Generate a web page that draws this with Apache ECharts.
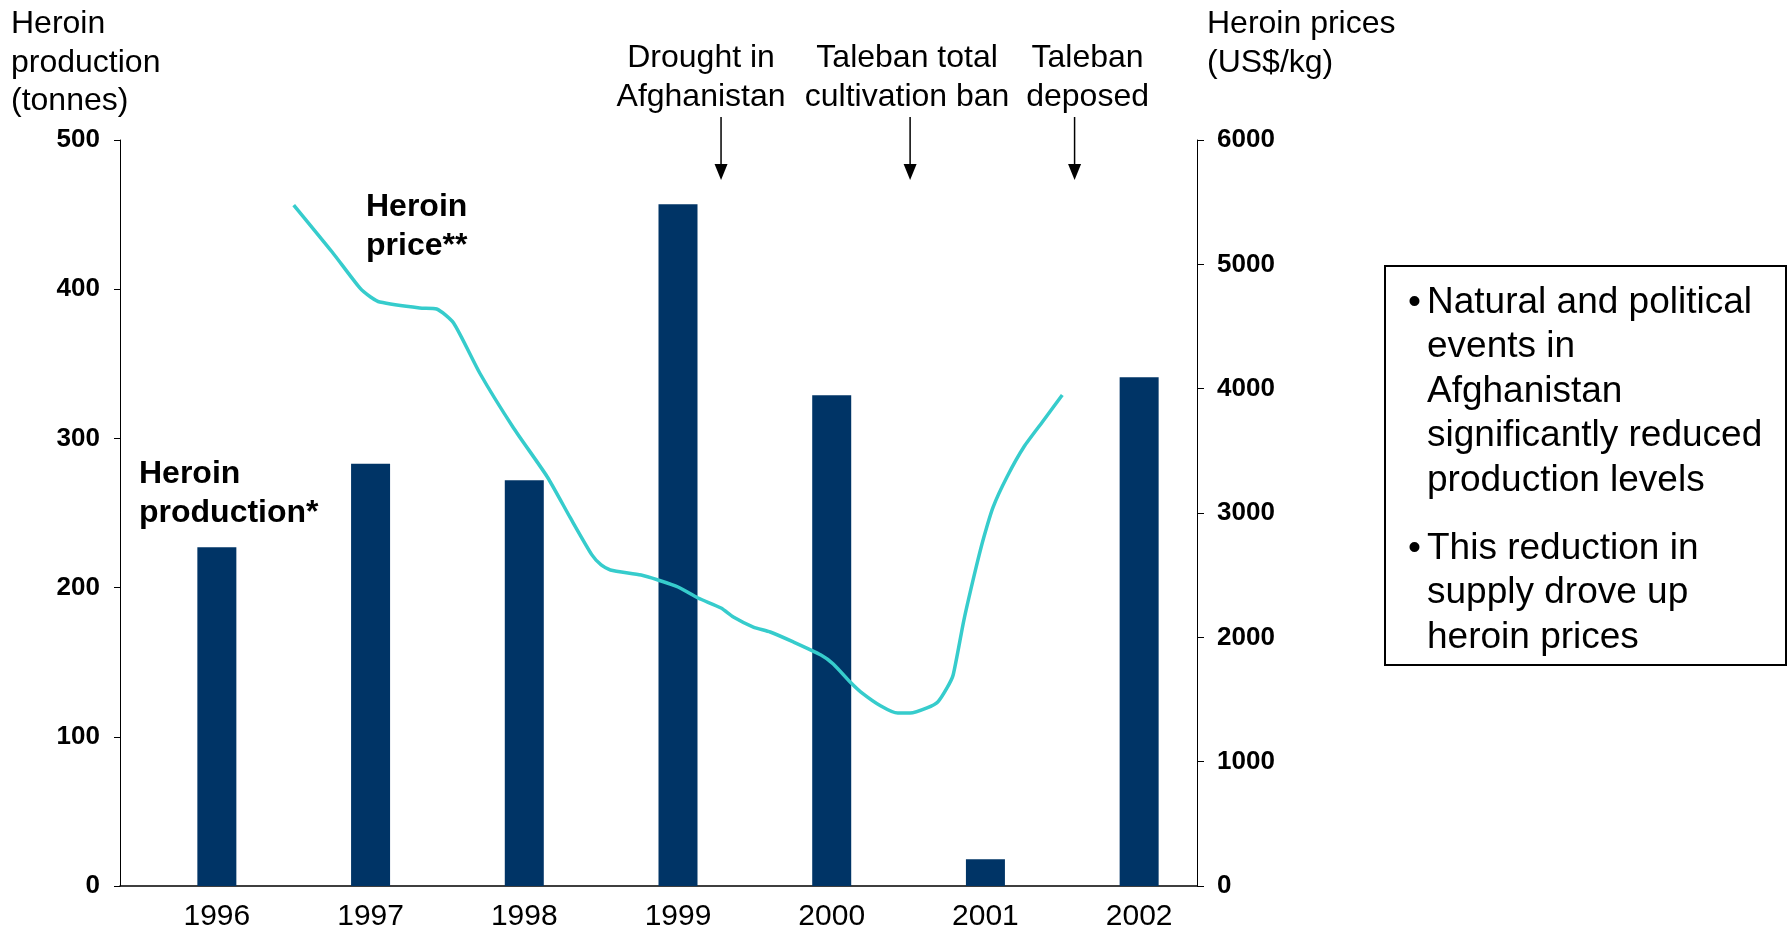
<!DOCTYPE html>
<html>
<head>
<meta charset="utf-8">
<script src="https://cdn.jsdelivr.net/npm/echarts@6/dist/echarts.min.js"></script>
<style>
    html, body { margin: 0; padding: 0; background: #fff; }
    #chart { width: 1789px; height: 928px; }
</style>
</head>
<body>
<div id="chart"></div>
<script>
// data
const years = ['1996', '1997', '1998', '1999', '2000', '2001', '2002'];
const production = [227, 283, 272, 457, 329, 18, 341]; // tonnes

// heroin price (US$/kg), x = decimal year
const priceYears = [1996.50, 1996.75, 1996.93, 1997.00, 1997.06, 1997.32, 1997.43, 1997.54, 1997.71, 1997.93,
    1998.15, 1998.30, 1998.44, 1998.50, 1998.56, 1998.76, 1998.87, 1999.00, 1999.13, 1999.28,
    1999.36, 1999.49, 1999.60, 1999.75, 1999.93, 2000.01, 2000.12, 2000.19, 2000.32, 2000.43,
    2000.51, 2000.62, 2000.69, 2000.75, 2000.79, 2000.86, 2000.94, 2000.99, 2001.05, 2001.14,
    2001.25, 2001.38, 2001.50];
const prices = [5477, 5099, 4810, 4737, 4697, 4649, 4641, 4528, 4126, 3684,
    3290, 2960, 2663, 2582, 2542, 2501, 2461, 2405, 2316, 2236,
    2164, 2083, 2043, 1963, 1858, 1786, 1641, 1560, 1448, 1391,
    1391, 1432, 1480, 1593, 1697, 2139, 2566, 2807, 3048, 3290,
    3531, 3748, 3949];

const leftTicks = [0, 100, 200, 300, 400, 500];
const rightTicks = [0, 1000, 2000, 3000, 4000, 5000, 6000];

const eventYears = [1999.28, 2000.51, 2001.58];
const eventLabels = ['Drought in\nAfghanistan', 'Taleban total\ncultivation ban', 'Taleban\ndeposed'];
const eventLabelShift = [-20, -3, 13];

const bullets = [
    'Natural and political\nevents in\nAfghanistan\nsignificantly reduced\nproduction levels',
    'This reduction in\nsupply drove up\nheroin prices'
];

const FONT = '"Liberation Sans", Arial, sans-serif';
const BAR = '#003466';
const LINE = '#36CCCC';

const chart = echarts.init(document.getElementById('chart'));

const option = {
    animation: false,
    backgroundColor: '#fff',
    textStyle: { fontFamily: FONT },
    grid: [
        // data grid (bars + price line)
        { left: 140, right: 573, top: 140, bottom: 42, outerBoundsMode: 'none' },
        // visible axes
        { left: 120, right: 592, top: 140, bottom: 42, outerBoundsMode: 'none' }
    ],
    xAxis: [
        {
            type: 'category', gridIndex: 0, data: years,
            axisLine: { show: false }, axisTick: { show: false },
            axisLabel: { color: '#000', fontSize: 30, margin: 16, fontFamily: FONT }
        },
        { type: 'value', gridIndex: 0, min: 1995.5, max: 2002.5, show: false },
        {
            type: 'value', gridIndex: 1, min: 0, max: 1,
            axisLine: { lineStyle: { color: '#000', width: 1.5 } },
            axisTick: { show: false }, axisLabel: { show: false }, splitLine: { show: false }
        }
    ],
    yAxis: [
        { type: 'value', gridIndex: 0, min: 0, max: 500, show: false },
        { type: 'value', gridIndex: 0, min: 0, max: 6000, show: false },
        {
            type: 'value', gridIndex: 1, position: 'left', min: leftTicks[0], max: leftTicks[leftTicks.length - 1], interval: 100,
            axisLine: { show: true, lineStyle: { color: '#000', width: 1 } },
            axisTick: { show: true, length: 6, lineStyle: { color: '#000' } },
            axisLabel: { color: '#000', fontSize: 26, fontWeight: 'bold', margin: 20, fontFamily: FONT, formatter: v => String(v) },
            splitLine: { show: false }
        },
        {
            type: 'value', gridIndex: 1, position: 'right', min: rightTicks[0], max: rightTicks[rightTicks.length - 1], interval: 1000,
            axisLine: { show: true, lineStyle: { color: '#000', width: 1 } },
            axisTick: { show: true, length: 7, lineStyle: { color: '#000' } },
            axisLabel: { color: '#000', fontSize: 26, fontWeight: 'bold', margin: 20, fontFamily: FONT, formatter: v => String(v) },
            splitLine: { show: false }
        }
    ],
    series: [
        {
            name: 'Heroin production', type: 'bar', xAxisIndex: 0, yAxisIndex: 0,
            data: production, barWidth: 39,
            itemStyle: { color: BAR }
        },
        {
            name: 'Heroin price', type: 'line', xAxisIndex: 1, yAxisIndex: 1,
            data: priceYears.map((y, i) => [y, prices[i]]),
            smooth: 0.2, showSymbol: false,
            lineStyle: { color: LINE, width: 3.5 }
        }
    ]
};

chart.setOption(option);

// annotations: texts, arrows, bullet box
const graphic = [
    { type: 'text', left: 11, top: 5, style: { text: 'Heroin\nproduction\n(tonnes)', font: '32px ' + FONT, lineHeight: 38.5, fill: '#000' } },
    { type: 'text', left: 1207, top: 5, style: { text: 'Heroin prices\n(US$/kg)', font: '32px ' + FONT, lineHeight: 38.5, fill: '#000' } },
    { type: 'text', left: 366, top: 188, style: { text: 'Heroin\nprice**', font: 'bold 32px ' + FONT, lineHeight: 39, fill: '#000' } },
    { type: 'text', left: 139, top: 455, style: { text: 'Heroin\nproduction*', font: 'bold 32px ' + FONT, lineHeight: 39, fill: '#000' } },
    { type: 'rect', shape: { x: 1385, y: 266, width: 401, height: 399 }, style: { fill: 'none', stroke: '#000', lineWidth: 2 } }
];

let by = 280;
bullets.forEach(b => {
    graphic.push({ type: 'text', x: 1408, y: by, style: { text: '•', font: '37px ' + FONT, lineHeight: 44.6, fill: '#000' } });
    graphic.push({ type: 'text', x: 1427, y: by, style: { text: b, font: '37px ' + FONT, lineHeight: 44.6, fill: '#000' } });
    by += b.split('\n').length * 44.6 + 23;
});

eventYears.forEach((yr, i) => {
    const px = chart.convertToPixel({ xAxisIndex: 1 }, yr);
    graphic.push({
        type: 'text', x: px + eventLabelShift[i], y: 39,
        style: { text: eventLabels[i], font: '32px ' + FONT, lineHeight: 38.5, fill: '#000', align: 'center' }
    });
    graphic.push({ type: 'line', shape: { x1: px, y1: 117, x2: px, y2: 166 }, style: { stroke: '#000', lineWidth: 1.5 } });
    graphic.push({ type: 'polygon', shape: { points: [[px - 6.5, 164], [px + 6.5, 164], [px, 180]] }, style: { fill: '#000' } });
});

chart.setOption({ graphic: graphic });
</script>
</body>
</html>
